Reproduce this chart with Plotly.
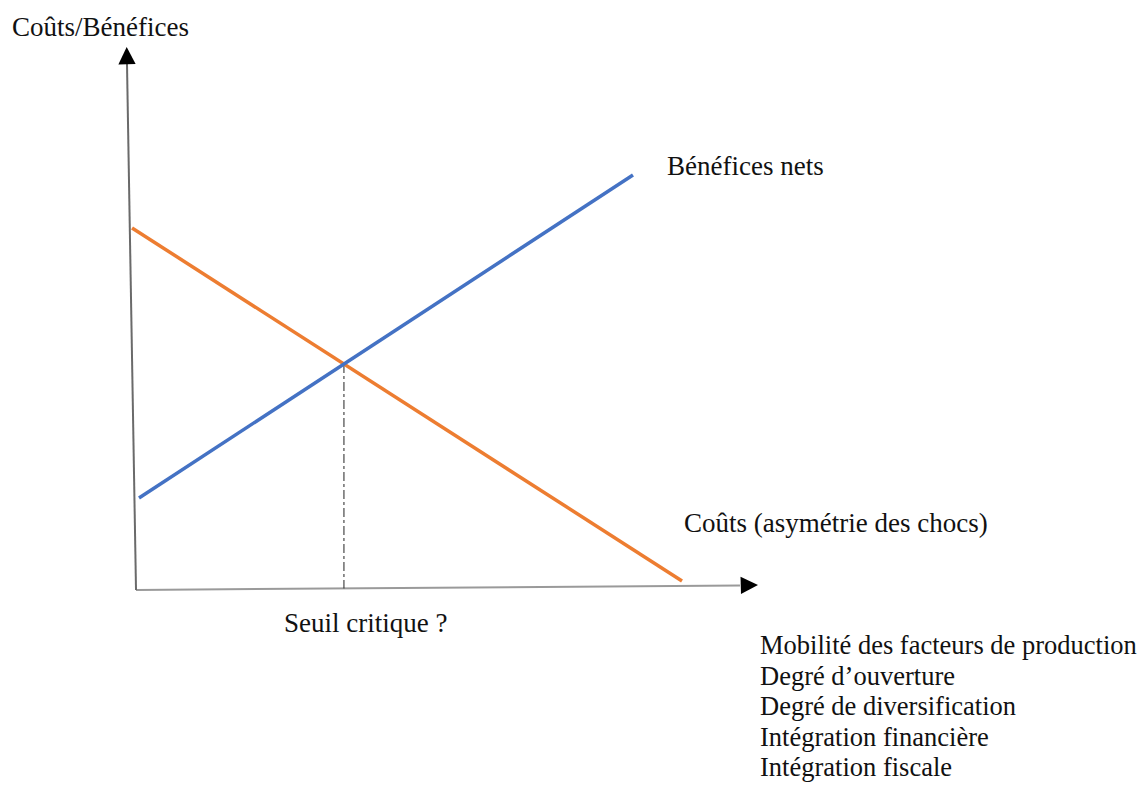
import plotly.graph_objects as go

# ---- data (schematic units: origin at axes corner, axis arrows at 10) ----
x_axis_x = [0.0, 9.71]
x_axis_y = [0.0, 0.083]
y_axis_x = [0.0, -0.145]
y_axis_y = [0.0, 9.69]

costs_x = [-0.064, 8.778]
costs_y = [6.667, 0.166]
benefits_x = [0.048, 7.99]
benefits_y = [1.694, 7.643]

y_title = "Coûts/Bénéfices"
benefits_label = "Bénéfices nets"
costs_label = "Coûts (asymétrie des chocs)"
threshold_label = "Seuil critique ?"
factors = [
    "Mobilité des facteurs de production",
    "Degré d\u2019ouverture",
    "Degré de diversification",
    "Intégration financière",
    "Intégration fiscale",
]

# ---- intersection (critical threshold) ----
def line_coef(xs, ys):
    m = (ys[1] - ys[0]) / (xs[1] - xs[0])
    return m, ys[0] - m * xs[0]

m1, b1 = line_coef(costs_x, costs_y)
m2, b2 = line_coef(benefits_x, benefits_y)
xi = (b2 - b1) / (m1 - m2)
yi = m1 * xi + b1
x_axis_at = x_axis_y[0] + (x_axis_y[1] - x_axis_y[0]) * xi / x_axis_x[1]

FONT = "Liberation Serif, Times New Roman, serif"
TXT = "#111111"

fig = go.Figure()
fig.add_trace(go.Scatter(x=x_axis_x, y=x_axis_y, mode="lines",
                         line=dict(color="#9a9a9a", width=2), hoverinfo="skip"))
fig.add_trace(go.Scatter(x=y_axis_x, y=y_axis_y, mode="lines",
                         line=dict(color="#6a6a6a", width=2), hoverinfo="skip"))
fig.add_trace(go.Scatter(x=[xi, xi], y=[yi, x_axis_at], mode="lines",
                         line=dict(color="#222222", width=1, dash="dashdot"), hoverinfo="skip"))
fig.add_trace(go.Scatter(x=costs_x, y=costs_y, mode="lines",
                         line=dict(color="#ED7D31", width=3.5), hoverinfo="skip"))
fig.add_trace(go.Scatter(x=benefits_x, y=benefits_y, mode="lines",
                         line=dict(color="#4472C4", width=3.5), hoverinfo="skip"))

# arrowheads
fig.add_annotation(x=10.0, y=0.092, ax=x_axis_x[1], ay=x_axis_y[1], xref="x", yref="y",
                   axref="x", ayref="y", showarrow=True, arrowhead=2, arrowsize=2.3,
                   arrowwidth=1.5, arrowcolor="#000000", text="")
fig.add_annotation(x=-0.15, y=10.0, ax=y_axis_x[1], ay=y_axis_y[1], xref="x", yref="y",
                   axref="x", ayref="y", showarrow=True, arrowhead=2, arrowsize=2.3,
                   arrowwidth=1.5, arrowcolor="#000000", text="")

def label(text, x, y, size=27):
    fig.add_annotation(x=x, y=y, xref="x", yref="y", text=text, showarrow=False,
                       xanchor="left", yanchor="middle",
                       font=dict(family=FONT, size=size, color=TXT))

label(y_title, -2.026, 10.37)
label(benefits_label, 8.505, 7.81)
label(costs_label, 8.778, 1.23)
label(threshold_label, 2.347, -0.61)
for i, f in enumerate(factors):
    label(f, 10.0, -1.02 - i * 0.562, size=26.5)

# page body has an 8px margin: figure spans screen px 8..1147 / 8..785
fig.update_layout(
    width=1139, height=777,
    margin=dict(l=0, r=0, t=0, b=0),
    paper_bgcolor="white", plot_bgcolor="white",
    showlegend=False,
    xaxis=dict(range=[-2.058, 16.254], visible=False, fixedrange=True),
    yaxis=dict(range=[-3.591, 10.718], visible=False, fixedrange=True),
)
fig.write_html("out.html")
